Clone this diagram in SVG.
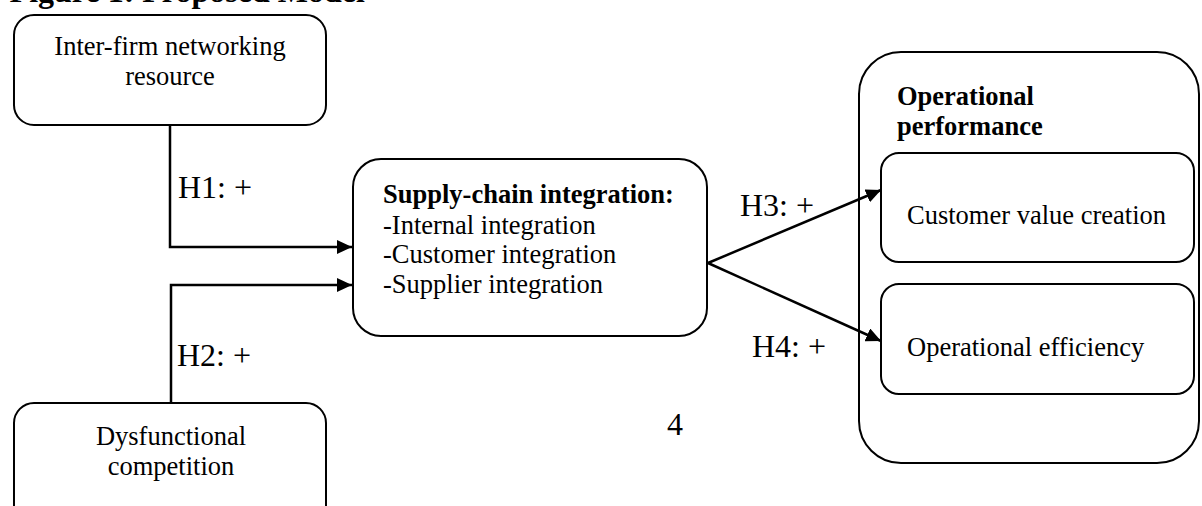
<svg xmlns="http://www.w3.org/2000/svg" width="1202" height="506" viewBox="0 0 1202 506">
  <defs>
    <marker id="arrow" markerUnits="userSpaceOnUse" markerWidth="15" markerHeight="14" refX="15" refY="7" orient="auto">
      <path d="M0,0 L15,7 L0,14 z" fill="#000"/>
    </marker>
    <style>
      .box { fill: #fff; stroke: #000; stroke-width: 2; }
      .t { font-family: "Liberation Serif", "Times New Roman", serif; font-size: 26.5px; fill: #000; }
      .b { font-weight: bold; }
      .lbl { font-family: "Liberation Serif", "Times New Roman", serif; font-size: 32px; fill: #000; }
      .conn { fill: none; stroke: #000; stroke-width: 2.5; marker-end: url(#arrow); }
    </style>
  </defs>
  <rect width="1202" height="506" fill="#fff"/>

  <text class="lbl b" x="9.6" y="2" font-weight="bold">Figure 1: Proposed Model</text>

  <g id="inter-firm">
    <rect class="box" x="14" y="15" width="312" height="110" rx="20"/>
    <text class="t" x="170" y="55" text-anchor="middle">Inter-firm networking</text>
    <text class="t" x="170" y="85" text-anchor="middle">resource</text>
  </g>

  <g id="dysfunctional">
    <rect class="box" x="14" y="403" width="312" height="130" rx="20"/>
    <text class="t" x="171" y="445" text-anchor="middle">Dysfunctional</text>
    <text class="t" x="171" y="475" text-anchor="middle">competition</text>
  </g>

  <g id="supply-chain">
    <rect class="box" x="353" y="159" width="354" height="177" rx="28"/>
    <text class="t b" x="383" y="203">Supply-chain integration:</text>
    <text class="t" x="383" y="234">-Internal integration</text>
    <text class="t" x="383" y="263">-Customer integration</text>
    <text class="t" x="383" y="293">-Supplier integration</text>
  </g>

  <g id="operational-performance">
    <rect class="box" x="859" y="52" width="340" height="411" rx="42"/>
    <text class="t b" x="897" y="105">Operational</text>
    <text class="t b" x="897" y="135">performance</text>
  </g>

  <g id="customer-value">
    <rect class="box" x="881" y="153" width="313" height="109" rx="18"/>
    <text class="t" x="907" y="224">Customer value creation</text>
  </g>

  <g id="operational-efficiency">
    <rect class="box" x="881" y="284" width="313" height="110" rx="18"/>
    <text class="t" x="907" y="356">Operational efficiency</text>
  </g>

  <g id="connectors">
    <path class="conn" d="M170,125 V247 H352"/>
    <path class="conn" d="M171,403 V285 H352"/>
    <path class="conn" d="M708,263 L881,190"/>
    <path class="conn" d="M708,263 L881,341"/>
    <text class="lbl" x="178" y="198">H1: +</text>
    <text class="lbl" x="177" y="366">H2: +</text>
    <text class="lbl" x="740" y="216">H3: +</text>
    <text class="lbl" x="752" y="357">H4: +</text>
  </g>

  <text class="lbl" x="675" y="435" text-anchor="middle">4</text>
</svg>
